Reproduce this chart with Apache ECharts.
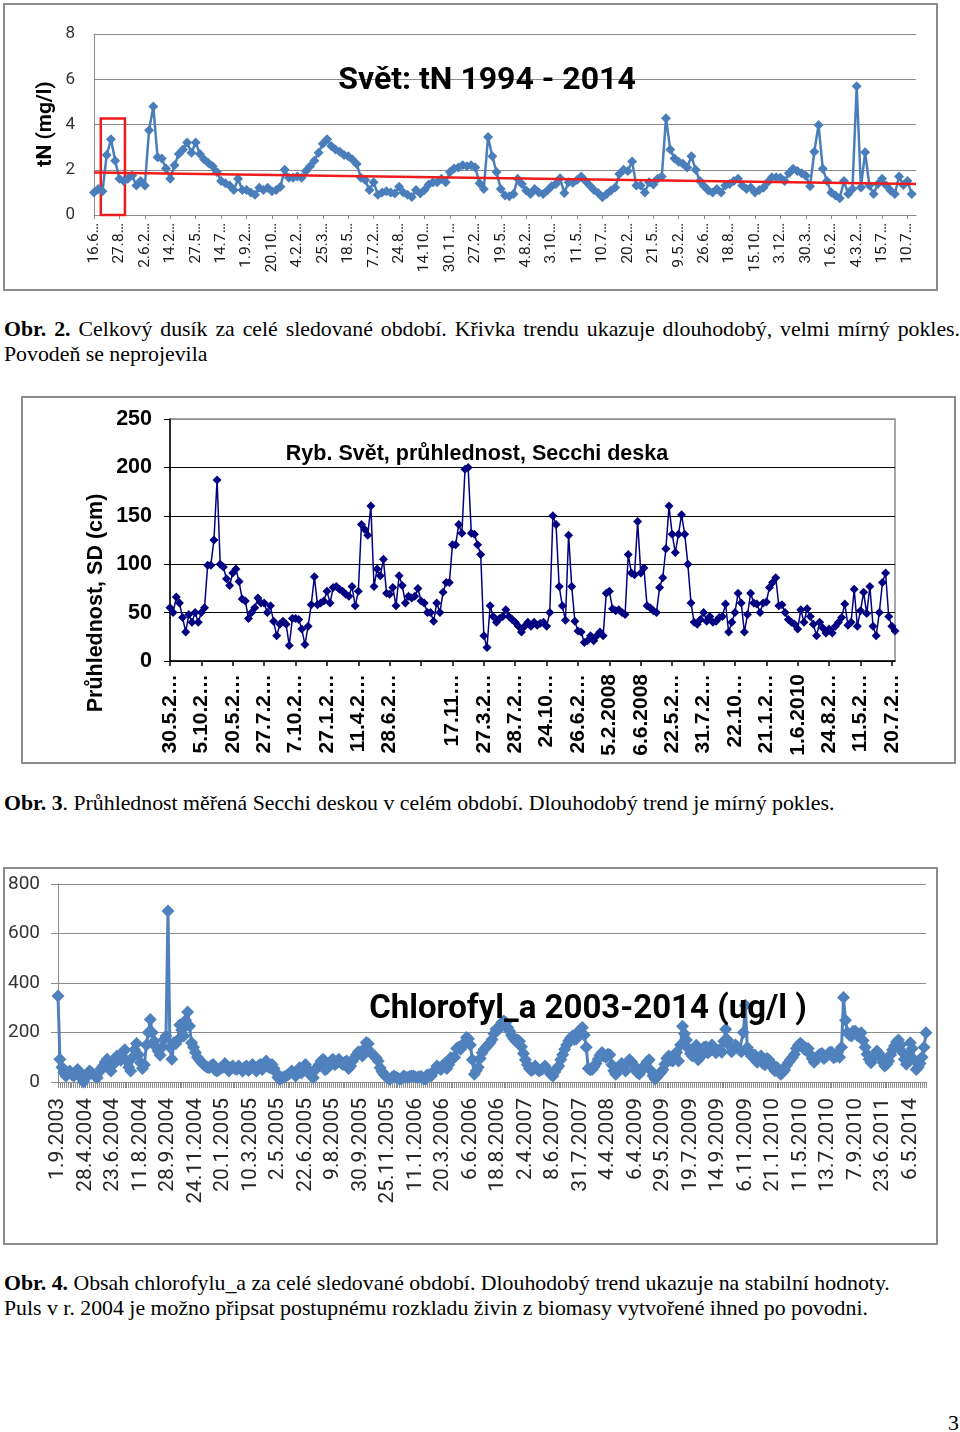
<!DOCTYPE html>
<html>
<head>
<meta charset="utf-8">
<script src="https://cdn.jsdelivr.net/npm/echarts@6/dist/echarts.min.js"></script>
<style>
  html, body { margin: 0; padding: 0; background: #fff; }
  body { width: 960px; height: 1432px; position: relative; overflow: hidden;
         font-family: "Liberation Serif", "Times New Roman", serif; color: #000; }
  .box { position: absolute; box-sizing: border-box; border: 2px solid #8c8c8c; background: #fff; }
  .cap { position: absolute; left: 4px; font-size: 21.8px; line-height: 25px; white-space: nowrap; }
  .just { text-align: justify; text-align-last: justify; white-space: normal; }
</style>
</head>
<body>
<div id="c1" class="box" style="left:3px;top:3px;width:935px;height:288px"></div>
<div class="cap" style="top:317px;width:956px">
  <div class="just"><b>Obr. 2.</b> Celkový dusík za celé sledované období. Křivka trendu ukazuje dlouhodobý, velmi mírný pokles.</div>
  <div>Povodeň se neprojevila</div>
</div>
<div id="c2" class="box" style="left:21px;top:396px;width:935px;height:368px"></div>
<div class="cap" style="top:791px;width:956px">
  <div><b>Obr. 3</b>. Průhlednost měřená Secchi deskou v celém období. Dlouhodobý trend je mírný pokles.</div>
</div>
<div id="c3" class="box" style="left:3px;top:867px;width:935px;height:378px"></div>
<div class="cap" style="top:1271px;width:956px">
  <div><b>Obr. 4.</b> Obsah chlorofylu_a za celé sledované období. Dlouhodobý trend ukazuje na stabilní hodnoty.</div>
  <div>Puls v r. 2004 je možno připsat postupnému rozkladu živin z biomasy vytvořené ihned po povodni.</div>
</div>
<div class="cap" style="top:1411px;left:948px">3</div>

<script>
// ---------- Chart 1: tN ----------
const tnLabels = ["16.6…","27.8…","2.6.2…","14.2…","27.5…","14.7…","1.9.2…","20.10…","4.2.2…","25.3…","18.5…",
  "7.7.2…","24.8…","14.10…","30.11…","27.2…","19.5…","4.8.2…","3.10…","11.5…","10.7…","20.2…","21.5…",
  "9.5.2…","26.6…","18.8…","15.10…","3.12…","30.3…","1.6.2…","4.3.2…","15.7…","10.7…"];
const tnValues = [
  1.0,1.15,1.05,2.65,3.35,2.4,1.6,1.5,1.6,1.75,
  1.3,1.5,1.3,3.75,4.8,2.55,2.5,2.05,1.6,2.2,
  2.7,2.9,3.2,2.75,3.2,2.7,2.45,2.3,2.15,1.9,
  1.5,1.4,1.3,1.1,1.6,1.1,1.1,1.0,0.9,1.2,
  1.1,1.2,1.05,1.1,1.25,2.0,1.65,1.65,1.7,1.65,
  1.95,2.15,2.4,2.75,3.15,3.35,3.05,2.9,2.8,2.65,
  2.6,2.45,2.25,1.65,1.55,1.1,1.45,0.9,1.0,1.05,
  1.0,0.95,1.25,1.0,0.9,0.8,1.1,0.95,1.1,1.35,
  1.45,1.45,1.6,1.45,1.9,2.05,2.1,2.2,2.15,2.2,
  2.1,1.4,1.15,3.45,2.6,1.9,1.15,0.86,0.83,0.93,
  1.6,1.37,1.08,0.93,1.15,1.0,0.93,1.08,1.27,1.37,
  1.62,0.97,1.45,1.42,1.55,1.7,1.5,1.3,1.1,0.97,
  0.78,0.93,1.08,1.22,1.81,2.0,1.95,2.36,1.3,1.3,
  1.0,1.45,1.35,1.6,1.7,4.28,2.9,2.5,2.35,2.26,
  2.1,2.6,2.0,1.5,1.27,1.08,1.0,1.15,1.0,1.3,
  1.37,1.5,1.6,1.3,1.15,1.22,1.0,1.1,1.2,1.45,
  1.67,1.67,1.65,1.5,1.85,2.04,1.95,1.85,1.74,1.27,
  2.8,3.98,2.04,1.5,0.99,0.86,0.74,1.5,0.93,1.15,
  5.69,1.22,2.77,1.3,0.93,1.37,1.6,1.3,1.08,0.93,
  1.7,1.33,1.5,0.93];
const tnTrend = [1.88, 1.37];   // linear trend: start, end

// ---------- Chart 2: Secchi depth ----------
const sdLabels = ["30.5.2…","5.10.2…","20.5.2…","27.7.2…","7.10.2…","27.1.2…","11.4.2…","28.6.2…","",
  "17.11…","27.3.2…","28.7.2…","24.10…","26.6.2…","5.2.2008","6.6.2008","22.5.2…","31.7.2…","22.10…",
  "21.1.2…","1.6.2010","24.8.2…","11.5.2…","20.7.2…"];
const sdValues = [
  55,50,66,60,45,30,48,40,50,40,
  50,55,99,99,125,187,100,97,85,78,
  91,95,82,64,62,44,50,55,65,60,
  60,50,57,41,26,38,41,38,16,44,
  44,43,33,17,36,58,87,58,60,62,
  72,60,76,77,74,72,69,67,77,57,
  72,141,136,130,160,77,95,88,105,70,
  69,76,57,88,78,60,67,65,67,75,
  62,60,50,50,41,60,50,71,81,81,
  120,120,141,132,198,200,132,131,120,110,
  26,14,57,46,40,44,46,53,46,43,
  40,36,30,36,40,
  36,40,37,39,40,36,50,150,141,77,
  57,42,130,77,41,31,30,19,21,26,
  21,26,30,26,70,72,54,52,53,50,
  48,110,91,89,144,91,96,57,55,52,
  50,76,86,116,160,131,112,131,151,131,
  100,60,40,38,43,50,41,46,40,41,
  45,46,59,30,40,50,70,60,30,48,
  70,60,59,50,60,61,76,81,86,57,
  58,50,43,40,38,33,53,40,54,46,
  38,26,40,34,29,33,29,36,40,45,
  59,37,40,74,36,52,71,49,77,36,
  26,50,81,91,46,36,31];

// ---------- Chart 3: chlorophyll a ----------
const chlLabels = ["1.9.2003","28.4.2004","23.6.2004","11.8.2004","28.9.2004","24.11.2004","20.1.2005",
  "10.3.2005","2.5.2005","22.6.2005","9.8.2005","30.9.2005","25.11.2005","11.1.2006","20.3.2006","6.6.2006",
  "18.8.2006","2.4.2007","8.6.2007","31.7.2007","4.4.2008","6.4.2009","29.5.2009","19.7.2009","14.9.2009",
  "6.11.2009","21.1.2010","11.5.2010","13.7.2010","7.9.2010","23.6.2011","6.5.2014"];
const chlValues = [
  347,92,60,38,24,35,44,30,24,40,
  51,35,15,0,15,28,44,38,31,22,
  17,40,55,65,80,92,60,44,70,90,
  105,92,88,120,130,85,60,44,100,130,
  156,110,78,55,70,150,200,253,200,165,
  140,125,108,140,172,186,691,140,92,159,
  155,170,230,210,186,250,283,226,159,140,
  119,100,90,80,72,65,60,58,66,71,
  48,44,51,56,60,75,60,44,58,65,
  55,51,65,55,44,60,65,46,55,71,
  55,44,65,71,51,70,85,62,58,71,
  55,38,18,11,17,20,24,28,35,44,
  35,24,45,58,36,45,71,55,40,24,
  17,48,60,71,85,92,50,55,71,85,
  92,70,78,92,80,71,80,85,55,65,
  85,98,110,122,115,105,135,160,155,122,
  112,105,98,85,58,42,31,22,16,11,
  18,24,20,16,11,15,24,20,17,22,
  24,24,20,17,22,22,14,11,28,28,
  24,38,50,65,58,51,68,75,55,70,
  98,95,100,135,140,132,145,160,180,175,
  150,90,31,45,60,95,118,132,140,150,
  159,172,195,213,210,220,240,246,240,220,
  205,188,176,166,170,165,142,115,90,70,
  55,46,52,65,52,44,49,55,65,52,
  42,30,24,40,55,65,90,110,132,150,
  166,178,186,172,175,204,212,220,190,140,
  55,50,51,62,75,92,108,119,105,100,
  112,110,70,45,31,45,58,75,62,44,
  75,90,82,70,51,38,32,45,58,70,
  82,90,45,25,12,20,31,38,50,72,
  95,105,88,85,112,120,85,150,225,195,
  170,135,115,105,135,148,90,100,132,140,
  142,118,125,150,135,118,128,130,120,165,
  213,170,145,122,135,150,140,130,122,200,
  310,139,118,105,110,108,80,90,105,75,
  70,95,90,78,58,45,60,45,31,38,
  48,68,80,90,100,112,135,148,157,150,
  132,136,135,112,95,80,92,105,112,115,
  95,102,112,120,120,98,102,119,100,140,
  341,250,200,190,186,205,205,188,192,199,
  168,140,112,92,78,95,108,125,115,100,
  80,65,72,85,110,130,145,162,170,150,
  120,92,72,110,159,135,90,51,60,75,
  100,140,199];

// ---------- helpers ----------
const idx = arr => arr.map((_, i) => String(i));
const labelFmt = (labels, step) => v => { const i = +v; return i % step === 0 ? (labels[i / step] || '') : ''; };
function textEl(x, y, text, font, rot) {
  return { type: 'text', x: x, y: y, rotation: rot || 0, z: 100, silent: true,
    style: { text: text, fill: '#000', fontFamily: font.family, fontSize: font.size, fontWeight: font.weight || 'normal',
      align: 'center', verticalAlign: 'middle', textAlign: 'center', textVerticalAlign: 'middle' } };
}

// ---------- Chart 1 ----------
const blue1 = '#4A7EBB', red = '#ee1c1c', grey = '#8c8c8c';
const n1 = tnValues.length;
const c1 = echarts.init(document.getElementById('c1'));
c1.setOption({
  animation: false,
  grid: { left: 89, top: 29, width: 822, height: 181, outerBoundsMode: 'none', containLabel: false },
  xAxis: [{
    type: 'category', data: idx(tnValues), boundaryGap: false, max: n1,
    axisLine: { lineStyle: { color: grey, width: 1 } },
    axisTick: { show: true, length: 4, lineStyle: { color: grey } },
    axisLabel: { interval: 5, rotate: 90, margin: 8, fontFamily: 'Roboto', fontSize: 15.5, color: '#1a1a1a',
      formatter: labelFmt(tnLabels, 6) },
    splitLine: { show: false }
  }, { type: 'value', min: 0, max: n1, show: false }],
  yAxis: {
    type: 'value', min: 0, max: 8, interval: 2,
    axisLine: { show: true, lineStyle: { color: grey } }, axisTick: { show: false },
    splitLine: { lineStyle: { color: grey, width: 1 } },
    axisLabel: { fontFamily: 'Roboto', fontSize: 17, color: '#333', margin: 19 }
  },
  series: [{
    type: 'line', data: tnValues, symbol: 'diamond', symbolSize: 10, showAllSymbol: true,
    itemStyle: { color: blue1 }, lineStyle: { color: blue1, width: 2.5 }, z: 3
  }, {
    type: 'line', xAxisIndex: 1, data: [[0, tnTrend[0]], [n1, tnTrend[1]]], symbol: 'none',
    lineStyle: { color: red, width: 2.5 }, z: 5, silent: true,
    markArea: { silent: true, itemStyle: { color: 'rgba(0,0,0,0)', borderColor: red, borderWidth: 2.5 },
      data: [[{ coord: [1.6, 4.27] }, { coord: [7.3, 0] }]] }
  }],
  graphic: [
    textEl(482, 76, 'Svět: tN 1994 - 2014', { family: 'Roboto', size: 32, weight: 'bold' }),
    textEl(41, 119, 'tN (mg/l)', { family: 'Roboto', size: 21, weight: 'bold' }, Math.PI / 2)
  ]
});

// ---------- Chart 2 ----------
const navy = '#000080';
const c2 = echarts.init(document.getElementById('c2'));
const f2 = 'Liberation Sans';
c2.setOption({
  animation: false,
  grid: { left: 147, top: 21, width: 725, height: 242, show: true, borderColor: grey, borderWidth: 1.5,
    outerBoundsMode: 'none', containLabel: false },
  xAxis: {
    type: 'category', data: idx(sdValues), boundaryGap: false,
    axisLine: { lineStyle: { color: '#000', width: 1.5 } },
    axisTick: { show: true, length: 5, lineStyle: { color: '#000', width: 1.5 } },
    axisLabel: { interval: 9, rotate: 90, margin: 13, fontFamily: f2, fontWeight: 'bold', fontSize: 21, color: '#000',
      formatter: labelFmt(sdLabels, 10) },
    splitLine: { show: false }
  },
  yAxis: {
    type: 'value', min: 0, max: 250, interval: 50,
    axisLine: { show: true, lineStyle: { color: '#000', width: 1.5 } },
    axisTick: { show: true, length: 6, lineStyle: { color: '#000' } },
    splitLine: { lineStyle: { color: ['#000', '#000', '#000', '#000', '#000', grey], width: 1.2 } },
    axisLabel: { fontFamily: f2, fontWeight: 'bold', fontSize: 21.5, color: '#000', margin: 18 }
  },
  series: [{
    type: 'line', data: sdValues, symbol: 'diamond', symbolSize: 9, showAllSymbol: true,
    itemStyle: { color: navy }, lineStyle: { color: navy, width: 1.5 }
  }],
  graphic: [
    textEl(454, 56, 'Ryb. Svět, průhlednost, Secchi deska', { family: f2, size: 21.5, weight: 'bold' }),
    textEl(73, 205, 'Průhlednost, SD (cm)', { family: f2, size: 21.5, weight: 'bold' }, Math.PI / 2)
  ]
});

// ---------- Chart 3 ----------
const blue3 = '#4F81BD';
const c3 = echarts.init(document.getElementById('c3'));
c3.setOption({
  animation: false,
  grid: { left: 53, top: 15, width: 868, height: 198, outerBoundsMode: 'none', containLabel: false },
  xAxis: {
    type: 'category', data: idx(chlValues), boundaryGap: false,
    axisLine: { lineStyle: { color: grey, width: 1 } },
    axisTick: { show: true, interval: 0, length: 6, lineStyle: { color: grey } },
    axisLabel: { interval: 13, rotate: 90, margin: 16, fontFamily: 'Roboto', fontSize: 21, color: '#262626',
      formatter: labelFmt(chlLabels, 14) },
    splitLine: { show: false }
  },
  yAxis: {
    type: 'value', min: 0, max: 800, interval: 200,
    axisLine: { show: true, lineStyle: { color: grey } },
    axisTick: { show: true, length: 7, lineStyle: { color: grey } },
    splitLine: { lineStyle: { color: grey, width: 1 } },
    axisLabel: { fontFamily: 'Roboto', fontSize: 19, color: '#333', margin: 18 }
  },
  series: [{
    type: 'line', data: chlValues, symbol: 'diamond', symbolSize: 13, showAllSymbol: true,
    itemStyle: { color: blue3 }, lineStyle: { color: blue3, width: 3 }
  }],
  graphic: [
    textEl(583, 141, 'Chlorofyl_a 2003-2014 (ug/l )', { family: 'Roboto', size: 33, weight: 'bold' })
  ]
});
</script>
</body>
</html>
